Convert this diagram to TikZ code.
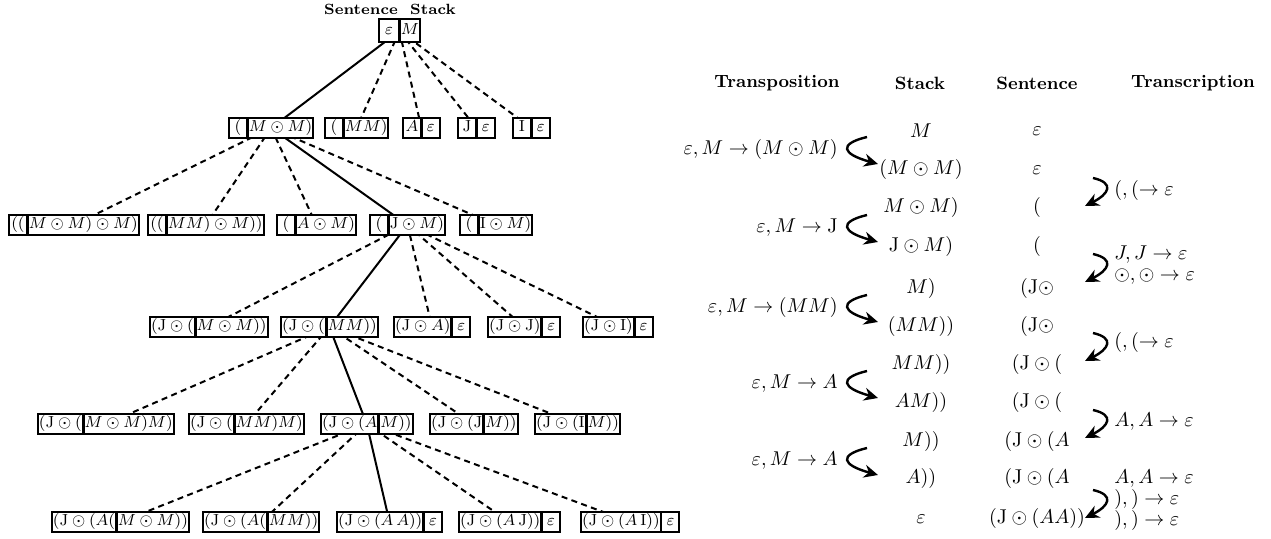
\documentclass[tikz,border=0pt]{standalone}
\usepackage{amsmath}
\usetikzlibrary{fit,backgrounds,arrows.meta}
\tikzset{
  part/.style={draw, line width=1pt, fill=white, inner xsep=0.5pt, inner ysep=0.8pt,
    text height=6pt, text depth=2pt, minimum height=10pt, minimum width=9pt,
    font=\fontsize{8}{9}\selectfont, outer sep=0pt},
  rootpart/.style={minimum height=11.5pt, minimum width=10pt},
  grp/.style={inner sep=0pt, outer sep=0pt},
  chosen/.style={line width=1pt},
  alt/.style={line width=1pt, dash pattern=on 3pt off 2.2pt},
  lbl/.style={font=\fontsize{7.4}{8}\selectfont\bfseries},
  hdr/.style={font=\fontsize{8.9}{10}\selectfont\bfseries, anchor=base},
  tm/.style={font=\fontsize{10.4}{12}\selectfont, inner sep=0.5pt},
  turn/.style={line width=1.2pt, -{Stealth[length=7pt,width=6.5pt]}}
}
\newcommand\TreeBox[6][]{%
  \node[part,#1,anchor=west] (#2L) at (#3,#4) {$#5$};
  \node[part,#1,anchor=west] (#2R) at ([xshift=0.4pt]#2L.east) {$#6$};
  \node[grp, fit=(#2L)(#2R)] (#2) {};
}
\begin{document}
\begin{tikzpicture}[x=0.5pt,y=-0.5pt]
\useasboundingbox (0,0) rectangle (1271,539);
% ---------------- tree ----------------
\node[lbl] (hsen) at (361,9) {Sentence};
\node[lbl] (hstk) at (433,9) {Stack};
\TreeBox[rootpart]{r}{379}{31}{\varepsilon}{M}
% level 1
\TreeBox{a1}{229}{128}{(}{M\odot M)}
\TreeBox{a2}{325}{128}{(}{MM)}
\TreeBox{a3}{403}{128}{A}{\varepsilon}
\TreeBox{a4}{458}{128}{\mathrm{J}}{\varepsilon}
\TreeBox{a5}{513}{128}{\mathrm{I}}{\varepsilon}
% level 2
\TreeBox{b1}{9}{225}{((}{M\odot M)\odot M)}
\TreeBox{b2}{148}{225}{((}{MM)\odot M))}
\TreeBox{b3}{277}{225}{(}{A\odot M)}
\TreeBox{b4}{370}{225}{(}{\mathrm{J}\odot M)}
\TreeBox{b5}{460}{225}{(}{\mathrm{I}\odot M)}
% level 3
\TreeBox{c1}{150}{327}{(\mathrm{J}\odot(}{M\odot M))}
\TreeBox{c2}{281}{327}{(\mathrm{J}\odot(}{MM))}
\TreeBox{c3}{394}{327}{(\mathrm{J}\odot A)}{\varepsilon}
\TreeBox{c4}{488}{327}{(\mathrm{J}\odot \mathrm{J})}{\varepsilon}
\TreeBox{c5}{583}{327}{(\mathrm{J}\odot \mathrm{I})}{\varepsilon}
% level 4
\TreeBox{d1}{38}{424}{(\mathrm{J}\odot(}{M\odot M)M)}
\TreeBox{d2}{189}{424}{(\mathrm{J}\odot(}{MM)M)}
\TreeBox{d3}{321}{424}{(\mathrm{J}\odot(A}{M))}
\TreeBox{d4}{430}{424}{(\mathrm{J}\odot(\mathrm{J}}{M))}
\TreeBox{d5}{535}{424}{(\mathrm{J}\odot(\mathrm{I}}{M))}
% level 5
\TreeBox{e1}{52}{522}{(\mathrm{J}\odot(A(}{M\odot M))}
\TreeBox{e2}{203}{522}{(\mathrm{J}\odot(A(}{MM))}
\TreeBox{e3}{337}{522}{(\mathrm{J}\odot(A\,A))}{\varepsilon}
\TreeBox{e4}{459}{522}{(\mathrm{J}\odot(A\,\mathrm{J}))}{\varepsilon}
\TreeBox{e5}{581}{522}{(\mathrm{J}\odot(A\,\mathrm{I}))}{\varepsilon}
\begin{scope}[on background layer]
  \draw[chosen] (r.center) -- (a1.center);
  \foreach \t in {a2,a3,a4,a5} \draw[alt] (r.center) -- (\t.center);
  \draw[chosen] (a1.center) -- (b4.center);
  \foreach \t in {b1,b2,b3,b5} \draw[alt] (a1.center) -- (\t.center);
  \draw[chosen] (b4.center) -- (c2.center);
  \foreach \t in {c1,c3,c4,c5} \draw[alt] (b4.center) -- (\t.center);
  \draw[chosen] (c2.center) -- (d3.center);
  \foreach \t in {d1,d2,d4,d5} \draw[alt] (c2.center) -- (\t.center);
  \draw[chosen] (d3.center) -- (e3.center);
  \foreach \t in {e1,e2,e4,e5} \draw[alt] (d3.center) -- (\t.center);
\end{scope}
% ---------------- table ----------------
\node[hdr] (h1) at (777,88) {Transposition};
\node[hdr] (h2) at (920,90) {Stack};
\node[hdr] (h3) at (1037,90) {Sentence};
\node[hdr] (h4) at (1193,88) {Transcription};
% stack column
\node[tm] (k1) at (921,131) {$M$};
\node[tm] (k2) at (921,170) {$(M\odot M)$};
\node[tm] (k3) at (921,208) {$M\odot M)$};
\node[tm] (k4) at (921,247) {$\mathrm{J}\odot M)$};
\node[tm] (k5) at (921,289) {$M)$};
\node[tm] (k6) at (921,327) {$(MM))$};
\node[tm] (k7) at (921,365) {$MM))$};
\node[tm] (k8) at (921,403) {$AM))$};
\node[tm] (k9) at (921,442) {$M))$};
\node[tm] (k10) at (921,479) {$A))$};
\node[tm] (k11) at (921,519) {$\varepsilon$};
% sentence column
\node[tm] (q1) at (1037,131) {$\varepsilon$};
\node[tm] (q2) at (1037,170) {$\varepsilon$};
\node[tm] (q3) at (1037,208) {$($};
\node[tm] (q4) at (1037,247) {$($};
\node[tm] (q5) at (1037,289) {$(\mathrm{J}\odot$};
\node[tm] (q6) at (1037,327) {$(\mathrm{J}\odot$};
\node[tm] (q7) at (1037,365) {$(\mathrm{J}\odot($};
\node[tm] (q8) at (1037,403) {$(\mathrm{J}\odot($};
\node[tm] (q9) at (1037,442) {$(\mathrm{J}\odot(A$};
\node[tm] (q10) at (1037,479) {$(\mathrm{J}\odot(A$};
\node[tm] (q11) at (1037,519) {$(\mathrm{J}\odot(AA))$};
% transpositions
\node[tm,anchor=east] (p1) at (839,150) {$\varepsilon, M \to (M\odot M)$};
\node[tm,anchor=east] (p2) at (839,228) {$\varepsilon, M \to \mathrm{J}$};
\node[tm,anchor=east] (p3) at (839,308) {$\varepsilon, M \to (MM)$};
\node[tm,anchor=east] (p4) at (839,384) {$\varepsilon, M \to A$};
\node[tm,anchor=east] (p5) at (839,461) {$\varepsilon, M \to A$};
\foreach \m [count=\i] in {150,228,308,384,461}{
  \coordinate (pu\i) at (867,\m-13);
  \coordinate (pv\i) at (878,\m+14);
  \draw[turn] (pu\i) .. controls (838,\m-6) and (842,\m+4) .. (pv\i);
}
% transcriptions
\node[tm,anchor=west] (t1) at (1113,191) {$(,(\to \varepsilon$};
\node[tm,anchor=west] (t2a) at (1113,255) {$J,J\to \varepsilon$};
\node[tm,anchor=west] (t2b) at (1113,277) {$\odot,\odot\to \varepsilon$};
\node[tm,anchor=west] (t3) at (1113,343) {$(,(\to \varepsilon$};
\node[tm,anchor=west] (t4) at (1113,422) {$A,A\to \varepsilon$};
\node[tm,anchor=west] (t5a) at (1113,479) {$A,A\to \varepsilon$};
\node[tm,anchor=west] (t5b) at (1113,500) {$),)\to \varepsilon$};
\node[tm,anchor=west] (t5c) at (1113,521) {$),)\to \varepsilon$};
\foreach \m [count=\i] in {191,267,346,423,503}{
  \coordinate (tu\i) at (1093,\m-13);
  \coordinate (tv\i) at (1085,\m+15);
  \draw[turn] (tu\i) .. controls (1115,\m-8) and (1109,\m+3) .. (tv\i);
}
\end{tikzpicture}
\end{document}
